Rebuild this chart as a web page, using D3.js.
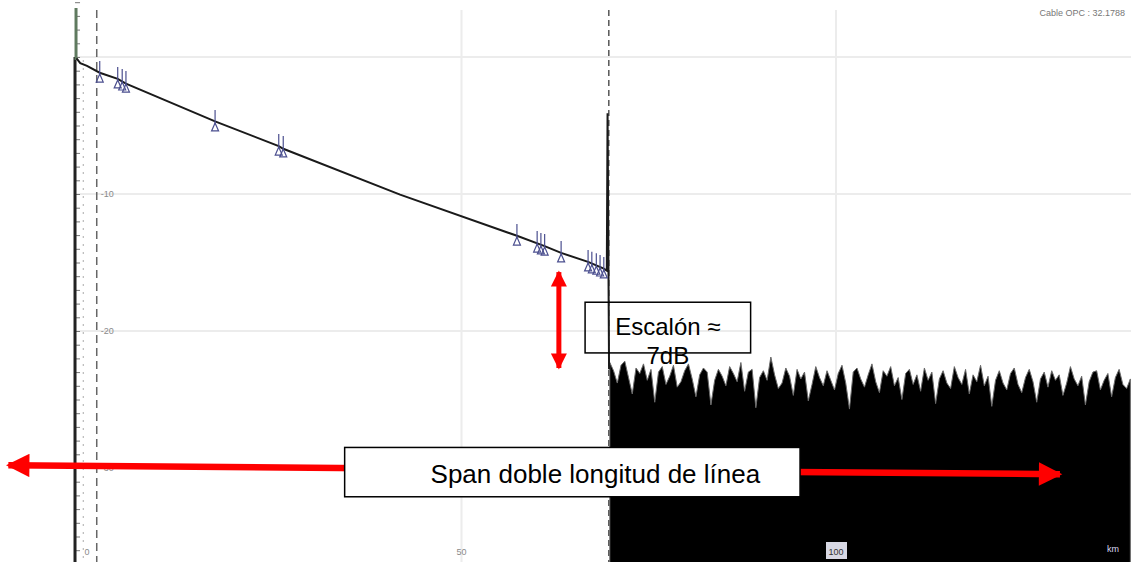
<!DOCTYPE html>
<html>
<head>
<meta charset="utf-8">
<script src="https://cdn.jsdelivr.net/npm/d3@7"></script>
<style>
  body { margin: 0; background: #fff; }
  svg { display: block; font-family: "Liberation Sans", Arial, sans-serif; }
  .grid { stroke: #ececec; stroke-width: 2; }
  .trace { fill: none; stroke: #1a1a1a; stroke-width: 2; }
  .event { stroke: #4b4f8f; fill: none; stroke-width: 1.2; }
  .tick-lbl { fill: #8a8a8a; font-size: 9px; }
  .note { font-size: 26px; fill: #000; text-anchor: middle; }
</style>
</head>
<body>
<svg id="otdr" width="1131" height="562"></svg>
<script>
// OTDR trace: distance in km, level in dB
var traceKm = [-1.4, -0.9, 0, 1.7, 4.1, 5.2, 17.1, 25.6, 26.2, 41.8, 57.4, 61.1, 63.3, 66.9, 69.0, 69.4, 69.5, 69.7];
var traceDb = [-0.1, -0.45, -0.65, -1.15, -1.6, -1.95, -4.7, -6.5, -6.7, -10.05, -13.05, -13.8, -14.3, -14.95, -15.45, -15.6, -4.1, -22.8];

// event markers along the fibre
var eventKm = [1.7, 4.1, 4.7, 5.2, 17.1, 25.6, 26.2, 57.4, 60.1, 60.6, 61.1, 63.3, 66.9, 67.4, 68.0, 68.5, 69.0];
var eventDb = [-1.17, -1.6, -1.75, -1.9, -4.74, -6.5, -6.64, -13.07, -13.58, -13.72, -13.8, -14.3, -14.96, -15.1, -15.2, -15.33, -15.47];

// noise floor after the fibre end, one sample every 0.5 km from 69.8 km
var noiseStartKm = 69.8;
var noiseStepKm = 0.5;
var noiseDb = [
  -22.3, -22.9, -23.8, -22.5, -22.2, -23.4, -24.6, -22.7, -23.1, -22.4,
  -23.6, -22.8, -25.2, -23.0, -22.6, -23.9, -23.3, -22.5, -24.1, -23.7,
  -22.9, -22.4, -23.5, -24.8, -23.2, -22.7, -23.0, -25.4, -23.6, -22.8,
  -23.3, -24.0, -22.6, -23.1, -23.7, -22.3, -24.4, -23.0, -22.8, -25.6,
  -23.4, -22.9, -23.6, -21.9, -23.2, -24.2, -23.8, -22.7, -23.3, -24.7,
  -22.8, -23.5, -23.0, -25.1, -23.9, -22.6, -23.4, -24.0, -22.9, -23.6,
  -24.3, -23.1, -22.5, -23.8, -25.7, -23.0, -22.7, -23.5, -24.1, -23.2,
  -22.4, -23.7, -24.5, -22.9, -23.3, -22.6, -24.0, -23.4, -25.0, -23.1,
  -22.8, -23.9, -23.2, -24.4, -22.7, -23.6, -23.0, -25.3, -23.5, -22.9,
  -23.8, -24.2, -22.6, -23.4, -23.9, -22.8, -24.6, -23.2, -23.7, -22.5,
  -24.0, -23.3, -25.5, -23.6, -22.9, -23.8, -24.3, -23.1, -22.7, -23.9,
  -24.5, -23.4, -22.8, -23.7, -25.2, -23.5, -23.0, -24.1, -22.9, -23.6,
  -23.2, -24.7, -23.8, -22.6, -23.5, -24.0, -23.3, -25.4, -23.7, -23.0,
  -22.9, -24.3, -23.6, -23.1, -24.8, -23.4, -22.8, -23.9, -24.2, -23.5
];

var yTicks = [0, -10, -20, -30];
var xLabels = [0, 50, 100];
var gridKm = [50, 100];

var markerKmA = 1.3;     // dashed cursor line
var markerKmB = -0.5;    // dotted cursor line
var endKm = 69.8;        // end-of-fibre cursor
var axisKm = -1.6;

// annotations
var stepArrowKm = 63.0, stepArrowDb = [-15.7, -22.7];
var stepBox = {km: [66.5, 88.6], db: [-17.9, -21.6]};
var spanArrowKm = [-10.5, 129.9], spanArrowDb = [-29.8, -30.45];
var spanBox = {km: [34.4, 95.2], db: [-28.5, -32.1]};

var svg = d3.select("#otdr"),
    W = +svg.attr("width"),
    H = +svg.attr("height");

var x = d3.scaleLinear().domain([0, 100]).range([87, 836]);
var y = d3.scaleLinear().domain([0, -30]).range([57, 468]);

// grid
svg.selectAll(".hgrid").data(yTicks).enter().append("line")
    .attr("class", "grid")
    .attr("x1", x(axisKm)).attr("x2", W)
    .attr("y1", function(d) { return y(d); })
    .attr("y2", function(d) { return y(d); });
svg.selectAll(".vgrid").data(gridKm).enter().append("line")
    .attr("class", "grid")
    .attr("x1", function(d) { return x(d); })
    .attr("x2", function(d) { return x(d); })
    .attr("y1", 10).attr("y2", H);

// cursor lines
svg.append("line")
    .attr("x1", x(markerKmB)).attr("x2", x(markerKmB))
    .attr("y1", 60).attr("y2", H)
    .attr("stroke", "#aaa").attr("stroke-dasharray", "2,6");
svg.append("line")
    .attr("x1", x(markerKmA)).attr("x2", x(markerKmA))
    .attr("y1", 10).attr("y2", H)
    .attr("stroke", "#666").attr("stroke-width", 1.5).attr("stroke-dasharray", "8,5");
svg.append("line")
    .attr("x1", x(endKm) - 1).attr("x2", x(endKm) - 1)
    .attr("y1", 10).attr("y2", H)
    .attr("stroke", "#555").attr("stroke-width", 1.5).attr("stroke-dasharray", "6,4");

// left axis with minor ticks
var yAxis = d3.axisRight(y)
    .tickValues(d3.range(4, -37, -1))
    .tickSize(5)
    .tickFormat("");
var ya = svg.append("g")
    .attr("transform", "translate(" + x(axisKm) + ",0)")
    .call(yAxis);
ya.select(".domain").remove();
ya.selectAll("line").attr("stroke", "#777");
svg.append("line")
    .attr("x1", x(axisKm)).attr("x2", x(axisKm))
    .attr("y1", 57).attr("y2", H)
    .attr("stroke", "#222").attr("stroke-width", 3);
svg.append("line")
    .attr("x1", x(axisKm) + 1).attr("x2", x(axisKm) + 1)
    .attr("y1", 8).attr("y2", 60)
    .attr("stroke", "#5f7a5f").attr("stroke-width", 3);

svg.selectAll(".ylbl").data(yTicks.slice(1)).enter().append("text")
    .attr("class", "tick-lbl")
    .attr("x", x(markerKmA) + 4)
    .attr("y", function(d) { return y(d) + 3; })
    .text(function(d) { return d; });

// noise floor
var noise = noiseDb.map(function(v, i) {
    return {km: noiseStartKm + i * noiseStepKm, db: v}; });
svg.append("path")
    .datum(noise)
    .attr("fill", "#000")
    .attr("stroke", "#6a6a6a")
    .attr("stroke-width", 1)
    .attr("d", d3.area()
        .x(function(d) { return x(d.km); })
        .y0(H + 2)
        .y1(function(d) { return y(d.db); }));

// trace
var trace = traceKm.map(function(k, i) { return {km: k, db: traceDb[i]}; });
svg.append("path")
    .datum(trace)
    .attr("class", "trace")
    .attr("d", d3.line()
        .x(function(d) { return x(d.km); })
        .y(function(d) { return y(d.db); }));

// event markers: tick above, small triangle below
var ev = svg.selectAll(".ev")
    .data(eventKm.map(function(k, i) { return {km: k, db: eventDb[i]}; }))
    .enter().append("g")
    .attr("class", "event")
    .attr("transform", function(d) {
        return "translate(" + x(d.km) + "," + y(d.db) + ")"; });
ev.append("line").attr("y1", -12).attr("y2", 2);
ev.append("path").attr("d", "M0,1L-3.5,9L3.5,9Z");

// x labels
svg.selectAll(".xlbl").data(xLabels).enter().append("text")
    .attr("class", "tick-lbl")
    .attr("x", function(d) { return x(d); })
    .attr("y", 555)
    .attr("text-anchor", "middle")
    .text(function(d) { return d; });
svg.append("rect")
    .attr("x", x(100) - 10).attr("y", 542)
    .attr("width", 21).attr("height", 17)
    .attr("fill", "#d8d8e4");
svg.append("text")
    .attr("x", x(100)).attr("y", 555)
    .attr("text-anchor", "middle")
    .attr("font-size", 9).attr("fill", "#333")
    .text("100");
svg.append("text")
    .attr("x", 1113).attr("y", 552)
    .attr("text-anchor", "middle")
    .attr("font-size", 9).attr("fill", "#d8d8f0")
    .text("km");

svg.append("text")
    .attr("x", 1125).attr("y", 16)
    .attr("text-anchor", "end")
    .attr("font-size", 9).attr("fill", "#777")
    .text("Cable OPC : 32.1788");

// red arrows
var defs = svg.append("defs");
defs.append("marker")
    .attr("id", "headS").attr("viewBox", "0 0 10 10")
    .attr("refX", 9).attr("refY", 5)
    .attr("markerWidth", 3.4).attr("markerHeight", 3.2)
    .attr("orient", "auto-start-reverse")
    .append("path").attr("d", "M0,0L10,5L0,10Z").attr("fill", "#f00");
defs.append("marker")
    .attr("id", "headL").attr("viewBox", "0 0 10 10")
    .attr("refX", 9).attr("refY", 5)
    .attr("markerWidth", 4.2).attr("markerHeight", 3.6)
    .attr("orient", "auto-start-reverse")
    .append("path").attr("d", "M0,0L10,5L0,10Z").attr("fill", "#f00");

svg.append("line")
    .attr("x1", x(stepArrowKm)).attr("x2", x(stepArrowKm))
    .attr("y1", y(stepArrowDb[0])).attr("y2", y(stepArrowDb[1]))
    .attr("stroke", "#f00").attr("stroke-width", 5)
    .attr("marker-start", "url(#headS)").attr("marker-end", "url(#headS)");

svg.append("line")
    .attr("x1", x(spanArrowKm[0])).attr("y1", y(spanArrowDb[0]))
    .attr("x2", x(spanArrowKm[1])).attr("y2", y(spanArrowDb[1]))
    .attr("stroke", "#f00").attr("stroke-width", 6.5)
    .attr("marker-start", "url(#headL)").attr("marker-end", "url(#headL)");

// text boxes
svg.append("rect")
    .attr("x", x(stepBox.km[0])).attr("y", y(stepBox.db[0]))
    .attr("width", x(stepBox.km[1]) - x(stepBox.km[0]))
    .attr("height", y(stepBox.db[1]) - y(stepBox.db[0]))
    .attr("fill", "none").attr("stroke", "#000").attr("stroke-width", 1.5);
var sx = (x(stepBox.km[0]) + x(stepBox.km[1])) / 2;
svg.append("text").attr("class", "note")
    .attr("x", sx).attr("y", 335)
    .style("font-size", "24px")
    .text("Escalón ≈");
svg.append("text").attr("class", "note")
    .attr("x", sx).attr("y", 364)
    .style("font-size", "24px")
    .text("7dB");

svg.append("rect")
    .attr("x", x(spanBox.km[0])).attr("y", y(spanBox.db[0]))
    .attr("width", x(spanBox.km[1]) - x(spanBox.km[0]))
    .attr("height", y(spanBox.db[1]) - y(spanBox.db[0]))
    .attr("fill", "#fff").attr("stroke", "#000").attr("stroke-width", 1.5);
svg.append("text").attr("class", "note")
    .attr("x", (x(spanBox.km[0]) + x(spanBox.km[1])) / 2 + 23)
    .attr("y", 483)
    .text("Span doble longitud de línea");
</script>
</body>
</html>
